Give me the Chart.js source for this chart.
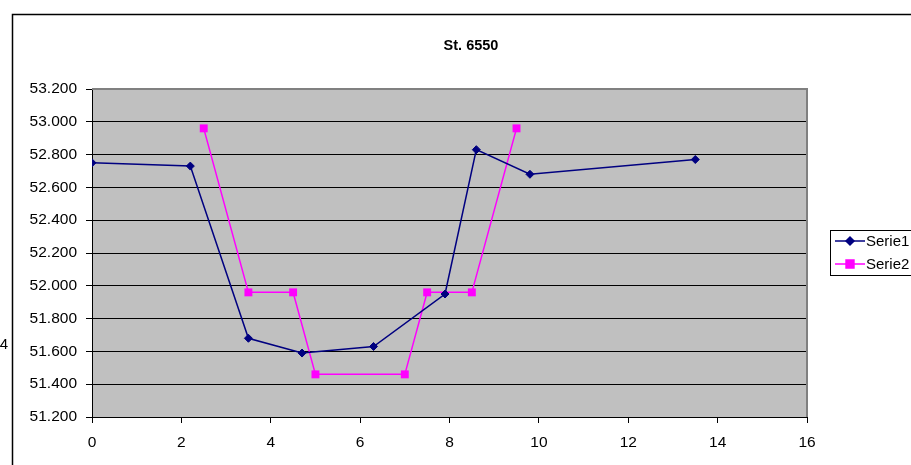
<!DOCTYPE html>
<html>
<head>
<meta charset="utf-8">
<script src="https://cdn.jsdelivr.net/npm/chart.js@4/dist/chart.umd.min.js"></script>
<style>
  html, body { margin: 0; padding: 0; background: #fff; }
  #chart { display: block; }
</style>
</head>
<body>
<canvas id="chart" width="911" height="465"></canvas>
<script>
// values
const chartTitle = "St. 6550";
const serie1X = [0, 2.2, 3.5, 4.7, 6.3, 7.9, 8.6, 9.8, 13.5];
const serie1Y = [52.75, 52.73, 51.68, 51.59, 51.63, 51.95, 52.83, 52.68, 52.77];
const serie2X = [2.5, 3.5, 4.5, 5, 7, 7.5, 8.5, 9.5];
const serie2Y = [52.96, 51.96, 51.96, 51.46, 51.46, 51.96, 51.96, 52.96];
const seriesNames = ["Serie1", "Serie2"];
const xTicks = { min: 0, max: 16, step: 2 };
const yTicks = { min: 51.2, max: 53.2, step: 0.2 };

const FONT = "'Liberation Sans', Arial, sans-serif";

const toPoints = (xs, ys) => xs.map((x, i) => ({ x, y: ys[i] }));

// excel-ish frame, grey plot area, title and the boxed legend
const excelLook = {
  id: "excelLook",
  beforeDraw(chart) {
    const { ctx, chartArea: a } = chart;
    ctx.save();
    ctx.fillStyle = "#c0c0c0";
    ctx.fillRect(a.left, a.top, a.right - a.left, a.bottom - a.top);
    ctx.restore();
  },
  afterDatasetsDraw(chart) {
    const { ctx, chartArea: a } = chart;
    ctx.save();
    // plot area border (top/right)
    ctx.strokeStyle = "#808080";
    ctx.lineWidth = 2;
    ctx.beginPath();
    ctx.moveTo(a.left, a.top);
    ctx.lineTo(a.right, a.top);
    ctx.lineTo(a.right, a.bottom);
    ctx.stroke();

    // outer chart frame
    ctx.strokeStyle = "#000";
    ctx.lineWidth = 1.5;
    ctx.beginPath();
    ctx.moveTo(12.5, 470);
    ctx.lineTo(12.5, 14.5);
    ctx.lineTo(915, 14.5);
    ctx.stroke();

    // title
    ctx.fillStyle = "#000";
    ctx.font = "bold 14.5px " + FONT;
    ctx.textAlign = "center";
    ctx.textBaseline = "middle";
    ctx.fillText(chartTitle, 471, 46);

    // stray clipped label at the left edge
    ctx.font = "15px " + FONT;
    ctx.textAlign = "right";
    ctx.fillText("4", 8, 345);

    // legend
    ctx.strokeStyle = "#000";
    ctx.lineWidth = 1;
    ctx.strokeRect(830.5, 230.5, 100, 45);
    const rows = [
      { y: 241, color: "#000080", style: "rectRot", r: 4 },
      { y: 264, color: "#ff00ff", style: "rect", r: 5.6 }
    ];
    rows.forEach((row, i) => {
      ctx.strokeStyle = row.color;
      ctx.lineWidth = 1.5;
      ctx.beginPath();
      ctx.moveTo(835, row.y);
      ctx.lineTo(865, row.y);
      ctx.stroke();
      ctx.fillStyle = row.color;
      Chart.helpers.drawPoint(ctx, { pointStyle: row.style, radius: row.r, borderWidth: 1 }, 850, row.y);
      ctx.fill();
      ctx.fillStyle = "#000";
      ctx.font = "15px " + FONT;
      ctx.textAlign = "left";
      ctx.textBaseline = "middle";
      ctx.fillText(seriesNames[i], 866, row.y + 1);
    });
    ctx.restore();
  }
};

new Chart(document.getElementById("chart"), {
  type: "scatter",
  data: {
    datasets: [
      {
        label: seriesNames[0],
        data: toPoints(serie1X, serie1Y),
        showLine: true,
        borderColor: "#000080",
        backgroundColor: "#000080",
        borderWidth: 1.5,
        pointStyle: "rectRot",
        pointRadius: 4,
        pointBorderWidth: 1,
        tension: 0
      },
      {
        label: seriesNames[1],
        data: toPoints(serie2X, serie2Y),
        showLine: true,
        borderColor: "#ff00ff",
        backgroundColor: "#ff00ff",
        borderWidth: 1.5,
        pointStyle: "rect",
        pointRadius: 5.6,
        pointBorderWidth: 0,
        tension: 0
      }
    ]
  },
  options: {
    responsive: false,
    devicePixelRatio: 1,
    animation: false,
    layout: { padding: { left: 0, right: 104, top: 89, bottom: 0 } },
    plugins: {
      legend: { display: false },
      title: { display: false },
      tooltip: { enabled: false }
    },
    scales: {
      x: {
        type: "linear",
        min: xTicks.min,
        max: xTicks.max,
        afterFit: (s) => { s.height = 48; },
        ticks: {
          stepSize: xTicks.step,
          color: "#000",
          font: { family: FONT, size: 15.5 },
          padding: 10,
          maxRotation: 0
        },
        grid: { drawOnChartArea: false, drawTicks: true, tickLength: 6, color: "#000" },
        border: { display: true, color: "#000", width: 1 }
      },
      y: {
        type: "linear",
        min: yTicks.min,
        max: yTicks.max,
        afterFit: (s) => { s.width = 92; },
        ticks: {
          stepSize: yTicks.step,
          color: "#000",
          font: { family: FONT, size: 15.5 },
          padding: 9,
          callback: (v) => v.toFixed(3)
        },
        grid: {
          color: (c) => (c.tick && Math.abs(c.tick.value - yTicks.max) < 1e-6 ? "#808080" : "#000"),
          tickColor: "#000",
          lineWidth: 1,
          tickLength: 6
        },
        border: { display: true, color: "#000", width: 1 }
      }
    }
  },
  plugins: [excelLook]
});
</script>
</body>
</html>
